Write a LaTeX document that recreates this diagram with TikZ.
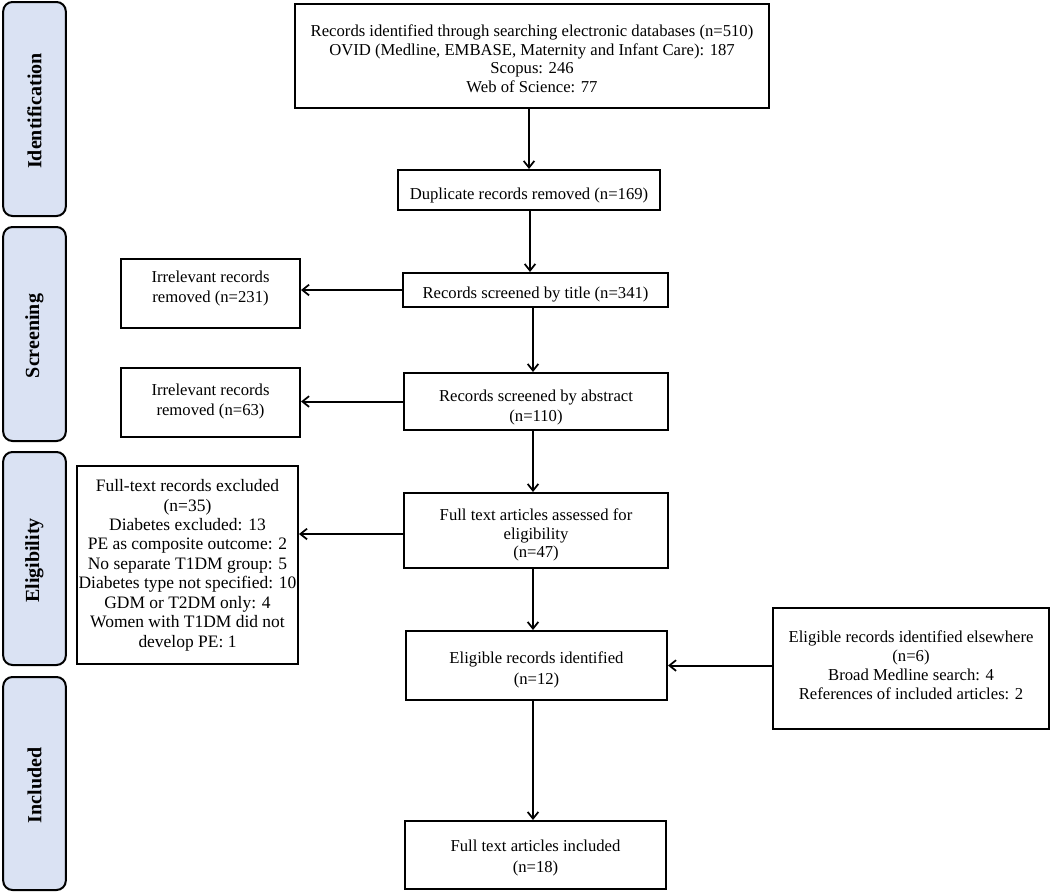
\documentclass[tikz,border=0pt]{standalone}
\usepackage{fontspec}
\setmainfont{Liberation Serif}
\usetikzlibrary{arrows.meta}
\definecolor{sidefill}{HTML}{DAE2F3}
% #1 baselineskip, #2 vertical shift in pt (+ is up), #3 lines
\newcommand\bxt[4][12.5pt]{\raisebox{#3pt}[\height][\depth]{\fontsize{#1}{#2}\selectfont
  \begin{tabular}{@{}c@{}}#4\end{tabular}}}
\tikzset{
  box/.style={draw=black, line width=1.5pt, fill=white, inner sep=0pt, align=center,
    font=\fontsize{12.5pt}{16pt}\selectfont},
  side/.style={draw=black, line width=1.5pt, fill=sidefill, rounded corners=7pt, inner sep=0pt,
    minimum width=47pt, minimum height=160pt},
  sidetext/.style={rotate=90, font=\fontsize{15pt}{18pt}\selectfont\bfseries},
  arr/.style={line width=1.5pt, -{Straight Barb[length=5pt,width=8pt,line width=1.3pt]}}
}
\begin{document}
\begin{tikzpicture}[x=0.75pt,y=-0.75pt]
\useasboundingbox (0,0) rectangle (1052,893);
% side labels
\node[side, minimum height=214*0.75pt] (sid) at (34.5,109) {};
\node[sidetext] (sidt) at (34.5,111) {Identification};
\node[side, minimum height=214*0.75pt] (sscr) at (34.5,334) {};
\node[sidetext] (sscrt) at (34.5,336) {Screening};
\node[side, minimum height=213*0.75pt] (self) at (34.5,558.5) {};
\node[sidetext] (selt) at (34.5,560.5) {Eligibility};
\node[side, minimum height=213*0.75pt] (sinc) at (34.5,783.5) {};
\node[sidetext] (sinct) at (34.5,785.5) {Included};
% main column
\node[box, minimum width=474*0.75pt, minimum height=104*0.75pt] (top) at (532,56)
  {\bxt{13.9pt}{-3.75}{Records identified through searching electronic databases (n=510)\\
   OVID (Medline, EMBASE, Maternity and Infant Care): 187\\
   Scopus: 246\\
   Web of Science: 77}};
\node[box, minimum width=262*0.75pt, minimum height=40*0.75pt] (dup) at (529,190)
  {\bxt{15pt}{-3.75}{Duplicate records removed (n=169)}};
\node[box, minimum width=265*0.75pt, minimum height=34*0.75pt] (title) at (535.5,290)
  {\bxt{15pt}{-3}{Records screened by title (n=341)}};
\node[box, minimum width=264*0.75pt, minimum height=57*0.75pt] (abs) at (536,401.5)
  {\bxt{15pt}{-4.5}{Records screened by abstract\\(n=110)}};
\node[box, minimum width=264*0.75pt, minimum height=75*0.75pt] (full) at (536,530.5)
  {\bxt{14pt}{-3.75}{Full text articles assessed for\\eligibility\\(n=47)}};
\node[box, minimum width=261*0.75pt, minimum height=69*0.75pt] (elig) at (536.5,665.5)
  {\bxt{15.75pt}{-3}{Eligible records identified\\(n=12)}};
\node[box, minimum width=261*0.75pt, minimum height=68*0.75pt] (inc) at (535.5,855)
  {\bxt{15.75pt}{-2.25}{Full text articles included\\(n=18)}};
% left column
\node[box, minimum width=179*0.75pt, minimum height=69*0.75pt] (irr1) at (210.5,293.5)
  {\bxt{15pt}{3.75}{Irrelevant records\\removed (n=231)}};
\node[box, minimum width=179*0.75pt, minimum height=69*0.75pt] (irr2) at (210.5,402.5)
  {\bxt{15pt}{0.75}{Irrelevant records\\removed (n=63)}};
\node[box, minimum width=221*0.75pt, minimum height=198*0.75pt] (excl) at (187.5,565)
  {\bxt[13.1pt]{14.6pt}{-0.4}{Full-text records excluded\\(n=35)\\Diabetes excluded: 13\\PE as composite outcome: 2\\
   No separate T1DM group: 5\\Diabetes type not specified: 10\\GDM or T2DM only: 4\\
   Women with T1DM did not\\develop PE: 1}};
% right
\node[box, minimum width=276*0.75pt, minimum height=121*0.75pt] (else) at (911,668.5)
  {\bxt{14.25pt}{0.75}{Eligible records identified elsewhere\\(n=6)\\Broad Medline search: 4\\References of included articles: 2}};
% arrows
\draw[arr] (top.south -| 529,0) -- (dup.north -| 529,0);
\draw[arr] (dup.south -| 530,0) -- (title.north -| 530,0);
\draw[arr] (title.south -| 533,0) -- (abs.north -| 533,0);
\draw[arr] (abs.south -| 533,0) -- (full.north -| 533,0);
\draw[arr] (full.south -| 533,0) -- (elig.north -| 533,0);
\draw[arr] (elig.south -| 533,0) -- (inc.north -| 533,0);
\draw[arr] (title.west) -- (irr1.east |- title.west);
\draw[arr] (abs.west) -- (irr2.east |- abs.west);
\draw[arr] (full.west |- 0,534) -- (excl.east |- 0,534);
\draw[arr] (else.west |- elig.east) -- (elig.east);
\end{tikzpicture}
\end{document}
